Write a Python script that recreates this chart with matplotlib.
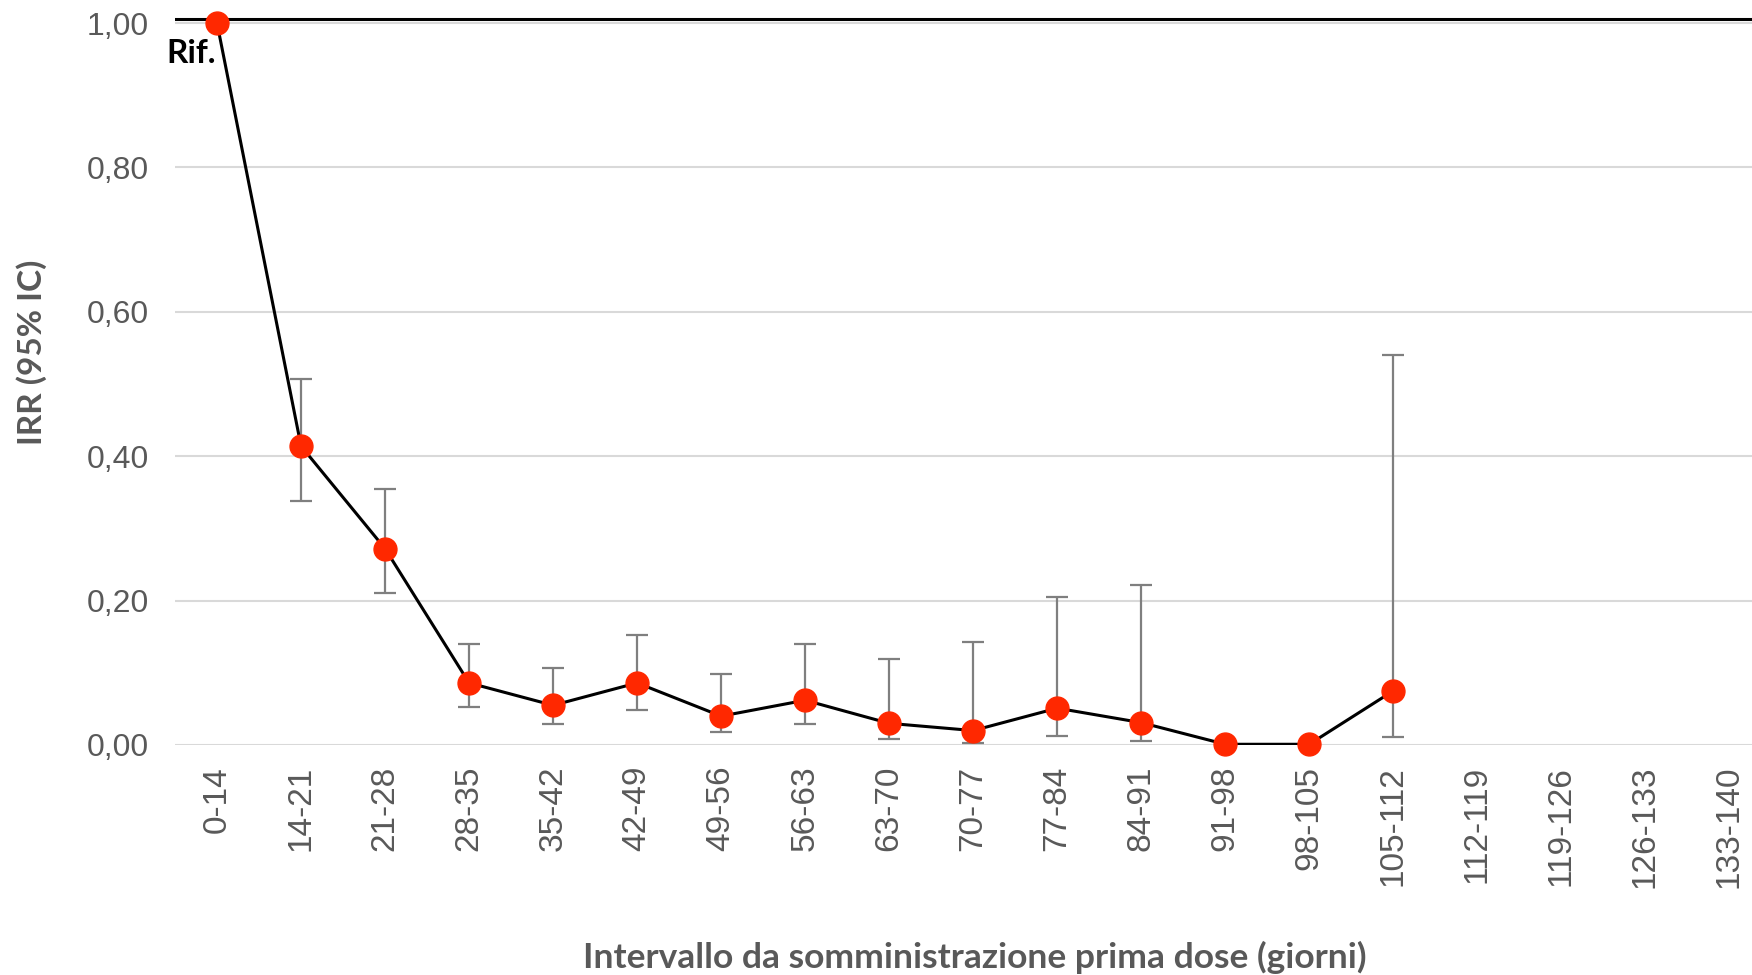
"""IRR by interval since first dose, with 95% CI error bars."""
import numpy as np
import matplotlib
matplotlib.use("Agg")
import matplotlib.pyplot as plt

intervals = ["0-14", "14-21", "21-28", "28-35", "35-42", "42-49", "49-56",
             "56-63", "63-70", "70-77", "77-84", "84-91", "91-98", "98-105",
             "105-112", "112-119", "119-126", "126-133", "133-140"]

# values only for the first 15 intervals
irr = [1.00, 0.414, 0.272, 0.086, 0.055, 0.086, 0.040, 0.062, 0.030,
       0.020, 0.051, 0.031, 0.001, 0.001, 0.075]
ci_low = [np.nan, 0.338, 0.210, 0.053, 0.029, 0.048, 0.018, 0.029, 0.008,
          0.003, 0.013, 0.005, np.nan, np.nan, 0.011]
ci_high = [np.nan, 0.507, 0.355, 0.140, 0.107, 0.153, 0.098, 0.140, 0.119,
           0.143, 0.205, 0.222, np.nan, np.nan, 0.540]

y_ticks = [0.0, 0.2, 0.4, 0.6, 0.8, 1.0]

GRAY_TXT = "#595959"
RED = "#FF2800"


def main():
    fig = plt.figure(figsize=(17.52, 9.75), dpi=100)
    ax = fig.add_axes([0.0999, 0.2359, 0.9001, 0.7641])

    x = np.arange(len(irr))
    y = np.array(irr)
    lo = np.array(ci_low)
    hi = np.array(ci_high)
    has_ci = ~np.isnan(lo)

    ax.errorbar(x[has_ci], y[has_ci],
                yerr=[y[has_ci] - lo[has_ci], hi[has_ci] - y[has_ci]],
                fmt="none", ecolor="#7F7F7F", elinewidth=1.6, capsize=8,
                capthick=1.6, zorder=2)
    ax.plot(x, y, color="black", lw=2.2, zorder=3)
    ax.plot(x, y, "o", color=RED, ms=16.5, mec=RED, zorder=4, clip_on=False)

    # reference line, drawn just over the 1,00 gridline
    ax.axhline(1.006, color="black", lw=2.2, zorder=1.5)
    ax.text(-0.31, 0.958, "Rif.", fontfamily="Lato", fontweight="bold",
            fontsize=24, color="black", ha="center", va="center")

    ax.set_xlim(-0.5, len(intervals) - 0.73)
    ax.set_ylim(0, 1.032)
    ax.set_xticks(np.arange(len(intervals)))
    ax.set_xticklabels(intervals, rotation=90, fontfamily="Liberation Sans",
                       fontsize=24, color=GRAY_TXT)
    ax.set_yticks(y_ticks)
    ax.set_yticklabels([f"{v:.2f}".replace(".", ",") for v in y_ticks],
                       fontfamily="Liberation Sans", fontsize=23, color=GRAY_TXT)
    ax.tick_params(axis="x", length=0, pad=15)
    ax.tick_params(axis="y", length=0, pad=19)
    ax.grid(axis="y", color="#D9D9D9", lw=1.5, zorder=0)
    ax.set_axisbelow(True)
    for s in ax.spines.values():
        s.set_visible(False)

    fig.text(0.0183, 0.639, "IRR (95% IC)", rotation=90, fontfamily="Lato",
             fontweight="bold", fontsize=24, color=GRAY_TXT,
             ha="center", va="center")
    fig.text(0.5565, 0.018, "Intervallo da somministrazione prima dose (giorni)",
             fontfamily="Lato", fontweight="bold", fontsize=25.5, color=GRAY_TXT,
             ha="center", va="center")

    fig.savefig("out.png", dpi=100)


if __name__ == "__main__":
    main()
